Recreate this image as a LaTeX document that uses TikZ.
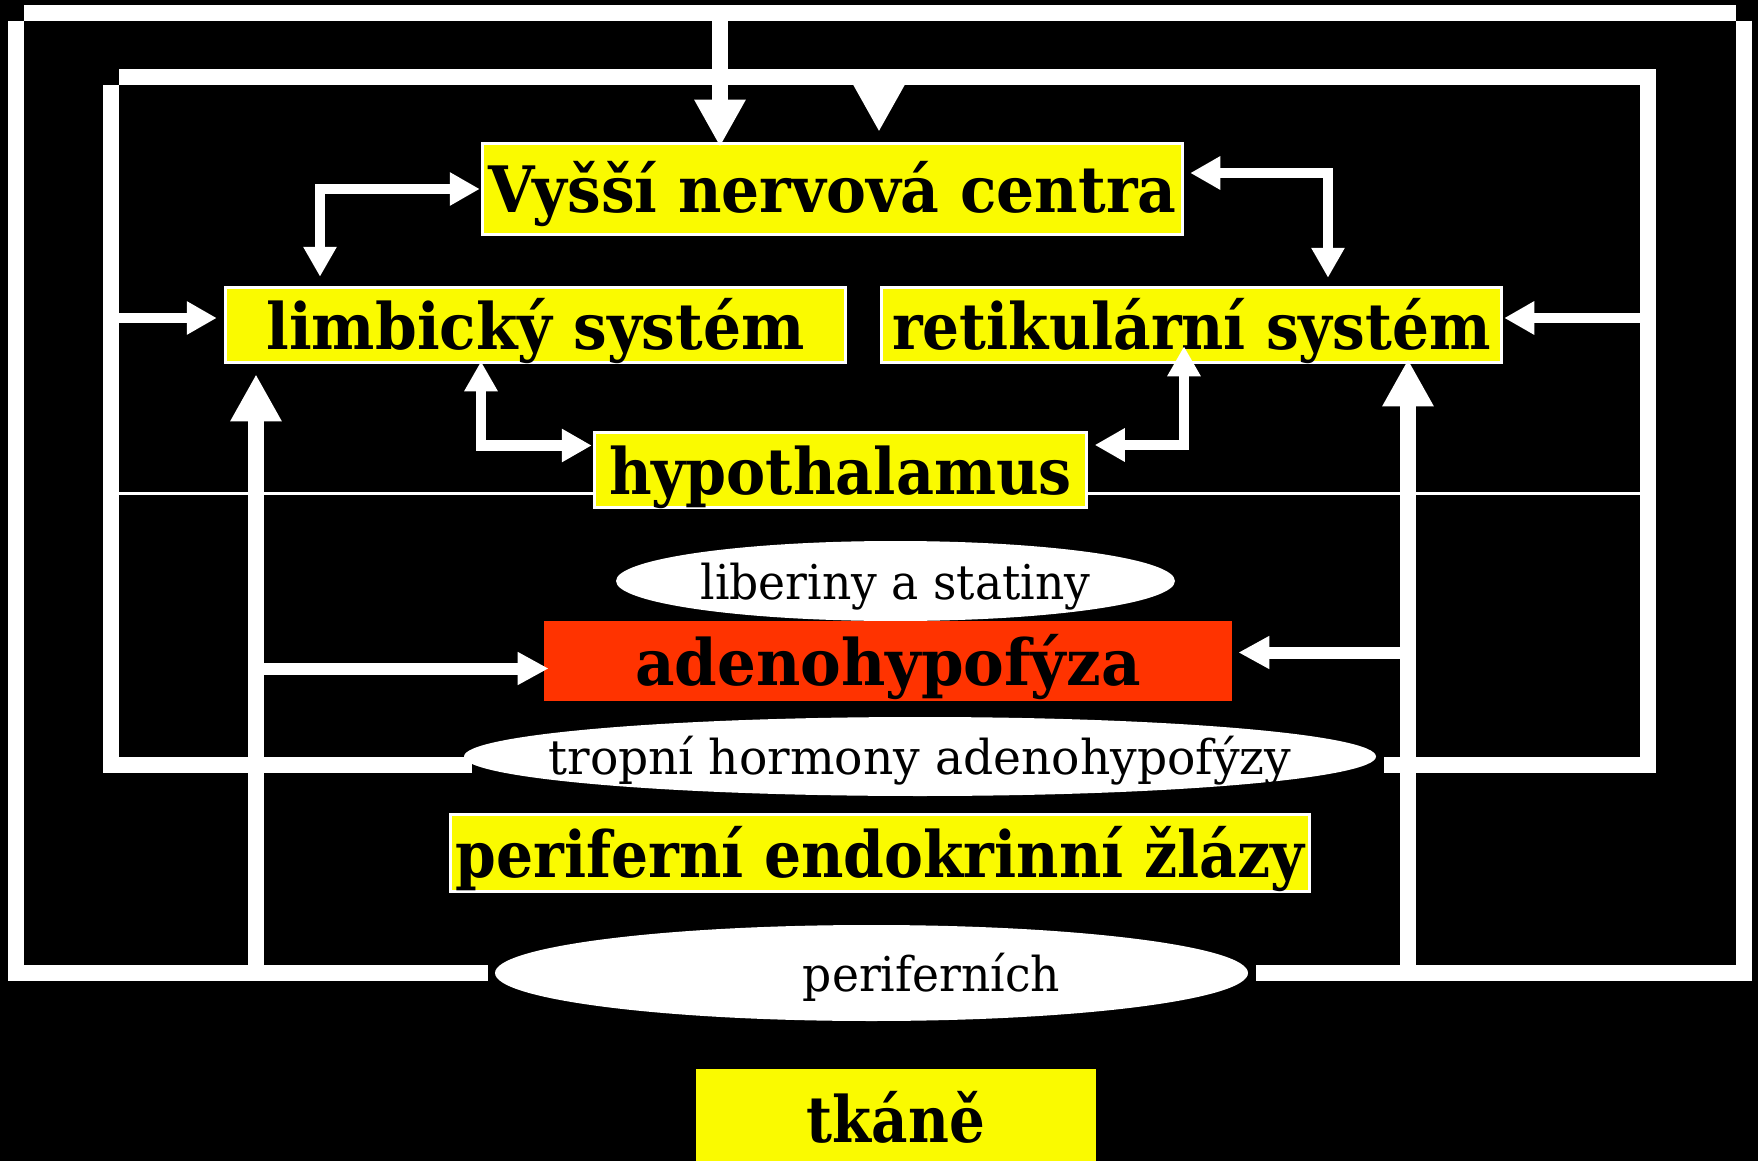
\documentclass[tikz,border=0pt]{standalone}
\usepackage{fontspec}
\setmainfont{DejaVu Serif}[FakeStretch=0.935]
\newfontfamily\ellfont{DejaVu Serif}[FakeStretch=0.95]
\usetikzlibrary{arrows.meta,calc,shapes.geometric}
\definecolor{boxyellow}{RGB}{250,250,0}
\definecolor{adered}{RGB}{255,51,0}
\begin{document}
\begin{tikzpicture}[x=0.5pt,y=-0.5pt,
  wd/.style={minimum width=#1*0.5pt},
  ht/.style={minimum height=#1*0.5pt},
  ybox/.style={rectangle, fill=boxyellow, draw=white, line width=1.25pt, inner sep=0pt,
     font=\fontsize{32}{36}\selectfont\bfseries, text height=26pt, text depth=2pt, text=black},
  rbox/.style={rectangle, fill=adered, inner sep=0pt,
     font=\fontsize{32}{36}\selectfont\bfseries, text height=26pt, text depth=2pt, text=black},
  ell/.style={ellipse, fill=white, inner sep=0pt,
     font=\ellfont\fontsize{24}{28}\selectfont, text height=20pt, text depth=2pt, text=black},
  frame/.style={draw=white, line width=8pt, line cap=butt},
  thinline/.style={draw=white, line width=1.5pt},
  conn/.style={draw=white, line width=5.25pt, line cap=butt},
  sarrow/.style={-{Triangle[length=15pt,width=15.75pt]}},
  sboth/.style={{Triangle[length=15pt,width=15.75pt]}-{Triangle[length=15pt,width=15.75pt]}},
  bigc/.style={draw=white, line width=8pt, line cap=butt, -{Triangle[length=23.5pt,width=24pt]}},
  adec/.style={draw=white, line width=6pt, line cap=butt, -{Triangle[length=15.5pt,width=15.5pt]}}
]
\useasboundingbox (0,0) rectangle (1758,1161);
\fill[black] (0,0) rectangle (1758,1161);

% nodes
\node[ybox,wd=700,ht=91] (vys) at (832.5,189) {Vyšší nervová centra};
\node[ybox,wd=620,ht=75] (lim) at (535.5,325) {limbický systém};
\node[ybox,wd=620,ht=75] (ret) at (1191.5,325) {\scalebox{0.971}[1]{retikulární systém}};
\node[ybox,wd=492,ht=75] (hyp) at (840.5,470) {\scalebox{0.981}[1]{hypothalamus}};
\node[ell,wd=559,ht=80] (lib) at (895.5,581) {\makebox[0pt]{liberiny a statiny}};
\node[rbox,wd=688,ht=80] (ade) at (888,661) {\scalebox{1.02}[1]{adenohypofýza}};
\node[ell,wd=912,ht=79] (tro) at (920,756.5) {\makebox[0pt]{\scalebox{1.034}[1]{tropní hormony adenohypofýzy}}};
\node[ybox,wd=859,ht=77] (per) at (880,853) {\scalebox{0.975}[1]{periferní endokrinní žlázy}};
\node[ell,wd=753,ht=96] (pch) at (871.5,973) {\makebox[0pt]{\hspace{60pt}periferních}};
\node[ybox,draw=none,wd=400,ht=98] (tka) at (896,1118) {\scalebox{0.94}[1]{tkáně}};

% outer frame
\draw[frame] (24,13) -- (1736,13);
\draw[frame] (16,20.7) -- (16,981);
\draw[frame] (1744,20.7) -- (1744,981);
\draw[frame] (8,973) -- ($(pch.west)+(-7,0)$);
\draw[frame] ($(pch.east)+(8,0)$) -- (1752,973);
% inner frame
\draw[frame] (119,77) -- (1656,77);
\draw[frame] (111,85) -- (111,773);
\draw[frame] (1648,77) -- (1648,773);
\draw[frame] (103,765) -- ($(tro.west)+(8,8.5)$);
\draw[frame] ($(tro.east)+(8,8.5)$) -- (1656,765);
% thin line
\draw[thinline] (119,493) -- ($(hyp.west)+(0,23)$);
\draw[thinline] ($(hyp.east)+(0,23)$) -- (1640,493);

% arrows
\draw[bigc] (720,13) -- ($(vys.north)+(-112.5,4.5)$);
\draw[bigc] (879,77) -- ($(vys.north)+(46.5,-10.5)$);
\draw[conn,sarrow] (111,318) -- ($(lim.west)+(-7.5,-7)$);
\draw[conn,sarrow] (1648,318) -- ($(ret.east)+(1.5,-7)$);
\draw[bigc] (256,973) -- ($(lim.south)+(-279.5,10.5)$);
\draw[bigc] (1408,973) -- ($(ret.south)+(216.5,-4.5)$);
\draw[conn,sboth] ($(lim.north)+(-215.5,-9.5)$) |- ($(vys.west)+(-1.5,0)$);
\draw[conn,sboth] ($(vys.east)+(6.5,-16)$) -| ($(ret.north)+(136.5,-8.5)$);
\draw[conn,sboth] ($(lim.south)+(-54.5,-2.5)$) |- ($(hyp.west)+(-1.5,-24.5)$);
\draw[conn,sboth] ($(ret.south)+(-7.5,-17.5)$) |- ($(hyp.east)+(7,-25)$);
\draw[adec] (256,668.5) -- ($(ade.west)+(5,7.5)$);
\draw[adec] (1408,652.5) -- ($(ade.east)+(6,-8.5)$);
\end{tikzpicture}
\end{document}
